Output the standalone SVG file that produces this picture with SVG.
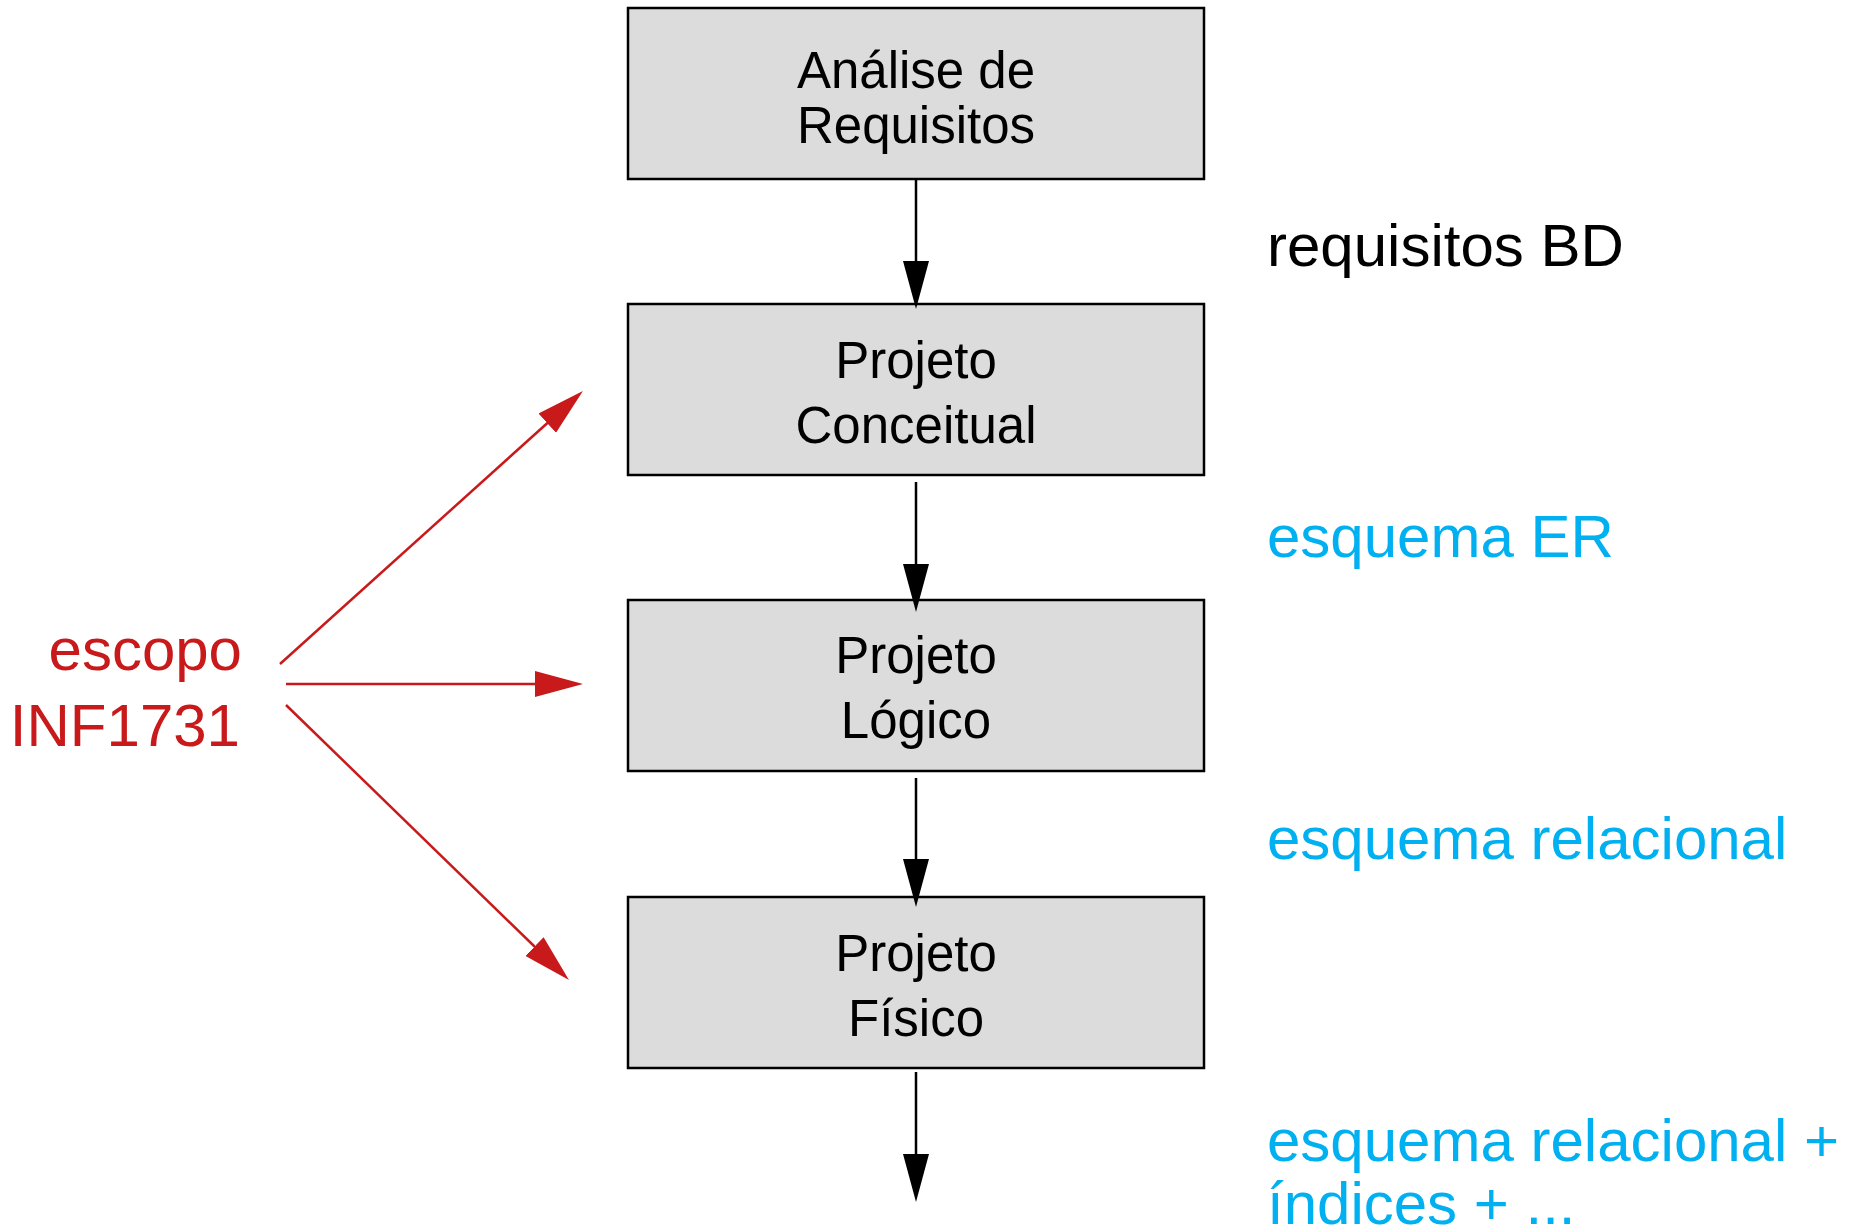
<svg xmlns="http://www.w3.org/2000/svg" width="1852" height="1229" viewBox="0 0 1852 1229">
  <style>
    .box { fill: #dcdcdc; stroke: #000; stroke-width: 2.5; }
    .boxtxt { font-family: "Liberation Sans", Arial, sans-serif; font-size: 51px; fill: #000; text-anchor: middle; }
    .lbl { font-family: "Liberation Sans", Arial, sans-serif; font-size: 60px; }
    .blue { fill: #00b0f0; }
    .red { fill: #c8191b; }
    .flow { stroke: #000; stroke-width: 2.5; fill: none; }
    .scope { stroke: #c8191b; stroke-width: 2.5; fill: none; }
  </style>
  <defs>
    <marker id="arrBlack" markerUnits="userSpaceOnUse" markerWidth="48" markerHeight="26" refX="38" refY="13" orient="auto" viewBox="0 0 48 26">
      <path d="M0,0 L48,13 L0,26 z" fill="#000"/>
    </marker>
    <marker id="arrRed" markerUnits="userSpaceOnUse" markerWidth="48" markerHeight="26" refX="38" refY="13" orient="auto" viewBox="0 0 48 26">
      <path d="M0,0 L48,13 L0,26 z" fill="#c8191b"/>
    </marker>
  </defs>

  <rect width="1852" height="1229" fill="#fff"/>

  <!-- process steps -->
  <g id="analise">
    <rect class="box" x="628" y="8" width="576" height="171"/>
    <text class="boxtxt" x="916" y="88">Análise de</text>
    <text class="boxtxt" x="916" y="143">Requisitos</text>
  </g>
  <g id="conceitual">
    <rect class="box" x="628" y="304" width="576" height="171"/>
    <text class="boxtxt" x="916" y="378">Projeto</text>
    <text class="boxtxt" x="916" y="443">Conceitual</text>
  </g>
  <g id="logico">
    <rect class="box" x="628" y="600" width="576" height="171"/>
    <text class="boxtxt" x="916" y="673">Projeto</text>
    <text class="boxtxt" x="916" y="738">Lógico</text>
  </g>
  <g id="fisico">
    <rect class="box" x="628" y="897" width="576" height="171"/>
    <text class="boxtxt" x="916" y="971">Projeto</text>
    <text class="boxtxt" x="916" y="1036">Físico</text>
  </g>

  <!-- scope label -->
  <g id="escopo">
    <text class="lbl red" x="242" y="670" text-anchor="end">escopo</text>
    <text class="lbl red" x="240" y="746" text-anchor="end">INF1731</text>
  </g>

  <!-- artefact labels -->
  <g id="artefatos">
    <text class="lbl" x="1267" y="266" fill="#000">requisitos BD</text>
    <text class="lbl blue" x="1267" y="557">esquema ER</text>
    <text class="lbl blue" x="1267" y="859">esquema relacional</text>
    <text class="lbl blue" x="1267" y="1161">esquema relacional +</text>
    <text class="lbl blue" x="1267" y="1224">índices + ...</text>
  </g>

  <!-- connectors -->
  <g id="connectors">
    <line class="flow" x1="916" y1="180" x2="916" y2="299" marker-end="url(#arrBlack)"/>
    <line class="flow" x1="916" y1="482" x2="916" y2="602" marker-end="url(#arrBlack)"/>
    <line class="flow" x1="916" y1="778" x2="916" y2="897" marker-end="url(#arrBlack)"/>
    <line class="flow" x1="916" y1="1072" x2="916" y2="1192" marker-end="url(#arrBlack)"/>

    <line class="scope" x1="280" y1="664" x2="575.5" y2="397.7" marker-end="url(#arrRed)"/>
    <line class="scope" x1="286" y1="684" x2="573" y2="684" marker-end="url(#arrRed)"/>
    <line class="scope" x1="286" y1="705" x2="561.8" y2="973" marker-end="url(#arrRed)"/>
  </g>
</svg>
